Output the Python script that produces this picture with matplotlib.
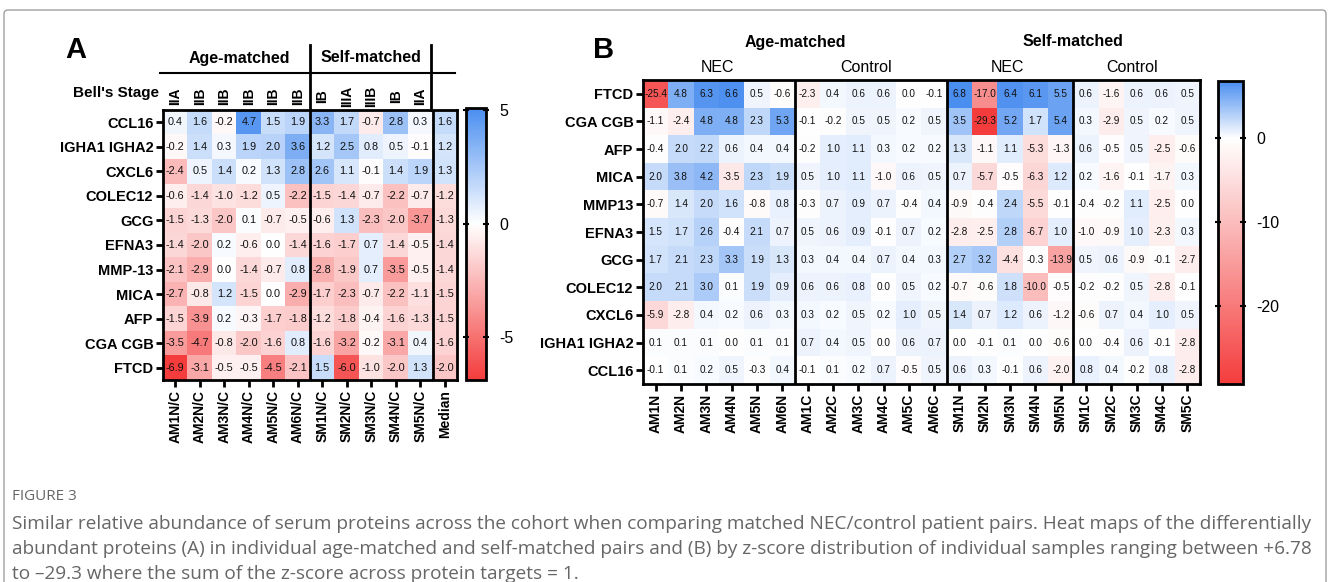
import numpy as np
import matplotlib
matplotlib.use("Agg")
import matplotlib.pyplot as plt
from matplotlib.colors import LinearSegmentedColormap
from matplotlib.patches import FancyBboxPatch

plt.rcParams["font.family"] = ["Liberation Sans", "DejaVu Sans"]
plt.rcParams["axes.unicode_minus"] = False

# ---- panel A: NEC/control ratio per matched pair ----
a_rows = ["CCL16", "IGHA1 IGHA2", "CXCL6", "COLEC12", "GCG", "EFNA3",
          "MMP-13", "MICA", "AFP", "CGA CGB", "FTCD"]
a_cols = ["AM1N/C", "AM2N/C", "AM3N/C", "AM4N/C", "AM5N/C", "AM6N/C",
          "SM1N/C", "SM2N/C", "SM3N/C", "SM4N/C", "SM5N/C", "Median"]
a_stage = ["IIA", "IIB", "IIB", "IIB", "IIB", "IIB", "IB", "IIIA", "IIIB", "IB", "IIA"]
a_values = [
    [0.4, 1.6, -0.2, 4.7, 1.5, 1.9, 3.3, 1.7, -0.7, 2.8, 0.3, 1.6],
    [-0.2, 1.4, 0.3, 1.9, 2.0, 3.6, 1.2, 2.5, 0.8, 0.5, -0.1, 1.2],
    [-2.4, 0.5, 1.4, 0.2, 1.3, 2.8, 2.6, 1.1, -0.1, 1.4, 1.9, 1.3],
    [-0.6, -1.4, -1.0, -1.2, 0.5, -2.2, -1.5, -1.4, -0.7, -2.2, -0.7, -1.2],
    [-1.5, -1.3, -2.0, 0.1, -0.7, -0.5, -0.6, 1.3, -2.3, -2.0, -3.7, -1.3],
    [-1.4, -2.0, 0.2, -0.6, 0.0, -1.4, -1.6, -1.7, 0.7, -1.4, -0.5, -1.4],
    [-2.1, -2.9, 0.0, -1.4, -0.7, 0.8, -2.8, -1.9, 0.7, -3.5, -0.5, -1.4],
    [-2.7, -0.8, 1.2, -1.5, 0.0, -2.9, -1.7, -2.3, -0.7, -2.2, -1.1, -1.5],
    [-1.5, -3.9, 0.2, -0.3, -1.7, -1.8, -1.2, -1.8, -0.4, -1.6, -1.3, -1.5],
    [-3.5, -4.7, -0.8, -2.0, -1.6, 0.8, -1.6, -3.2, -0.2, -3.1, 0.4, -1.6],
    [-6.9, -3.1, -0.5, -0.5, -4.5, -2.1, 1.5, -6.0, -1.0, -2.0, 1.3, -2.0],
]
a_range = (-6.9, 5.1)
a_ticks = [5, 0, -5]

# ---- panel B: z-scores of individual samples ----
b_rows = ["FTCD", "CGA CGB", "AFP", "MICA", "MMP13", "EFNA3", "GCG",
          "COLEC12", "CXCL6", "IGHA1 IGHA2", "CCL16"]
b_cols = ["AM1N", "AM2N", "AM3N", "AM4N", "AM5N", "AM6N",
          "AM1C", "AM2C", "AM3C", "AM4C", "AM5C", "AM6C",
          "SM1N", "SM2N", "SM3N", "SM4N", "SM5N",
          "SM1C", "SM2C", "SM3C", "SM4C", "SM5C"]
b_values = [
    [-25.4, 4.8, 6.3, 6.6, 0.5, -0.6, -2.3, 0.4, 0.6, 0.6, 0.0, -0.1, 6.8, -17.0, 6.4, 6.1, 5.5, 0.6, -1.6, 0.6, 0.6, 0.5],
    [-1.1, -2.4, 4.8, 4.8, 2.3, 5.3, -0.1, -0.2, 0.5, 0.5, 0.2, 0.5, 3.5, -29.3, 5.2, 1.7, 5.4, 0.3, -2.9, 0.5, 0.2, 0.5],
    [-0.4, 2.0, 2.2, 0.6, 0.4, 0.4, -0.2, 1.0, 1.1, 0.3, 0.2, 0.2, 1.3, -1.1, 1.1, -5.3, -1.3, 0.6, -0.5, 0.5, -2.5, -0.6],
    [2.0, 3.8, 4.2, -3.5, 2.3, 1.9, 0.5, 1.0, 1.1, -1.0, 0.6, 0.5, 0.7, -5.7, -0.5, -6.3, 1.2, 0.2, -1.6, -0.1, -1.7, 0.3],
    [-0.7, 1.4, 2.0, 1.6, -0.8, 0.8, -0.3, 0.7, 0.9, 0.7, -0.4, 0.4, -0.9, -0.4, 2.4, -5.5, -0.1, -0.4, -0.2, 1.1, -2.5, 0.0],
    [1.5, 1.7, 2.6, -0.4, 2.1, 0.7, 0.5, 0.6, 0.9, -0.1, 0.7, 0.2, -2.8, -2.5, 2.8, -6.7, 1.0, -1.0, -0.9, 1.0, -2.3, 0.3],
    [1.7, 2.1, 2.3, 3.3, 1.9, 1.3, 0.3, 0.4, 0.4, 0.7, 0.4, 0.3, 2.7, 3.2, -4.4, -0.3, -13.9, 0.5, 0.6, -0.9, -0.1, -2.7],
    [2.0, 2.1, 3.0, 0.1, 1.9, 0.9, 0.6, 0.6, 0.8, 0.0, 0.5, 0.2, -0.7, -0.6, 1.8, -10.0, -0.5, -0.2, -0.2, 0.5, -2.8, -0.1],
    [-5.9, -2.8, 0.4, 0.2, 0.6, 0.3, 0.3, 0.2, 0.5, 0.2, 1.0, 0.5, 1.4, 0.7, 1.2, 0.6, -1.2, -0.6, 0.7, 0.4, 1.0, 0.5],
    [0.1, 0.1, 0.1, 0.0, 0.1, 0.1, 0.7, 0.4, 0.5, 0.0, 0.6, 0.7, 0.0, -0.1, 0.1, 0.0, -0.6, 0.0, -0.4, 0.6, -0.1, -2.8],
    [-0.1, 0.1, 0.2, 0.5, -0.3, 0.4, -0.1, 0.1, 0.2, 0.7, -0.5, 0.5, 0.6, 0.3, -0.1, 0.6, -2.0, 0.8, 0.4, -0.2, 0.8, -2.8],
]
b_range = (-29.3, 6.78)
b_ticks = [0, -10, -20]
b_groups = [6, 12, 17]  # column index where a new block starts

RED, BLUE = "#f43c3c", "#4a8ef0"
W, H = 1328, 582


def rect(x0, y0, x1, y1):
    # pixel box (top-left origin) -> figure fraction
    return [x0 / W, 1 - y1 / H, (x1 - x0) / W, (y1 - y0) / H]


def diverging(vmin, vmax):
    z = -vmin / (vmax - vmin)
    return LinearSegmentedColormap.from_list("rwb", [(0, RED), (z, "white"), (1, BLUE)])


def heat(ax, values, rows, cols, vrange, fs, splits):
    arr = np.array(values)
    im = ax.imshow(arr, cmap=diverging(*vrange), vmin=vrange[0], vmax=vrange[1],
                   aspect="auto", interpolation="nearest")
    for i in range(arr.shape[0]):
        for j in range(arr.shape[1]):
            ax.text(j, i, "%.1f" % arr[i, j], ha="center", va="center",
                    fontsize=fs, color="#111111")
    for s in splits:
        ax.axvline(s - 0.5, color="black", lw=2)
    ax.set_xticks(range(len(cols)), cols, rotation=90, fontsize=10, fontweight="bold")
    ax.set_yticks(range(len(rows)), rows, fontsize=10.5, fontweight="bold")
    ax.tick_params(length=5, width=2, pad=2)
    for sp in ax.spines.values():
        sp.set_linewidth(2)
    return im


def cbar(fig, im, cax, ticks):
    cb = fig.colorbar(im, cax=cax)
    cb.set_ticks(ticks)
    cb.outline.set_linewidth(2)
    cax.tick_params(left=True, right=True, direction="inout", length=5,
                    width=1.5, labelsize=11.5, pad=7)


fig = plt.figure(figsize=(W / 100, H / 100), dpi=100, facecolor="white")

axA = fig.add_axes(rect(163, 110, 457, 380))
imA = heat(axA, a_values, a_rows, a_cols, a_range, 7.8, [6, 11])
cbar(fig, imA, fig.add_axes(rect(466, 108, 486, 380)), a_ticks)

axB = fig.add_axes(rect(643, 80, 1200, 384))
imB = heat(axB, b_values, b_rows, b_cols, b_range, 7.2, b_groups)
cbar(fig, imB, fig.add_axes(rect(1218, 81, 1243, 384)), b_ticks)

# decorations drawn in pixel coordinates
deco = fig.add_axes([0, 0, 1, 1], zorder=5)
deco.set_xlim(0, W)
deco.set_ylim(H, 0)
deco.axis("off")
deco.patch.set_visible(False)

deco.add_patch(FancyBboxPatch((4, 10), 1322, 600, boxstyle="round,pad=0,rounding_size=4",
                              fc="none", ec="#a0a0a0", lw=1))

deco.text(76, 50, "A", fontsize=21, fontweight="bold", ha="center", va="center")
deco.text(604, 50, "B", fontsize=21, fontweight="bold", ha="center", va="center")

# panel A headers
deco.text(239, 58, "Age-matched", fontsize=11.5, fontweight="bold", ha="center", va="center")
deco.text(371, 58, "Self-matched", fontsize=11.5, fontweight="bold", ha="center", va="center")
deco.plot([160, 455], [73, 73], color="black", lw=1.5)
deco.plot([310, 310], [45, 110], color="black", lw=2)
deco.plot([431, 431], [45, 110], color="black", lw=2)
deco.text(159, 93, "Bell's Stage", fontsize=11, fontweight="bold", ha="right", va="center")
for j, st in enumerate(a_stage):
    deco.text(163 + (j + 0.5) * 24.5, 96, st, fontsize=10, fontweight="bold",
              rotation=90, ha="center", va="center")

# panel B headers
deco.text(795, 42, "Age-matched", fontsize=11.5, fontweight="bold", ha="center", va="center")
deco.text(1073, 42, "Self-matched", fontsize=11.5, fontweight="bold", ha="center", va="center")
for x, lab in [(718, "NEC"), (866, "Control"), (1007, "NEC"), (1132, "Control")]:
    deco.text(x, 68, lab, fontsize=11.5, ha="center", va="center")

# caption
cap = [
    "Similar relative abundance of serum proteins across the cohort when comparing matched NEC/control patient pairs. Heat maps of the differentially",
    "abundant proteins (A) in individual age-matched and self-matched pairs and (B) by z-score distribution of individual samples ranging between +6.78",
    "to \u201329.3 where the sum of the z-score across protein targets = 1.",
]
deco.text(12, 496, "FIGURE 3", fontsize=11, color="#666666", ha="left", va="center",
          family=["Open Sans", "DejaVu Sans"])
for k, line in enumerate(cap):
    deco.text(12, 524 + 25 * k, line, fontsize=13.7, color="#666666", ha="left", va="center",
              family=["Open Sans", "DejaVu Sans"])

fig.savefig("out.png", dpi=100, facecolor="white")
